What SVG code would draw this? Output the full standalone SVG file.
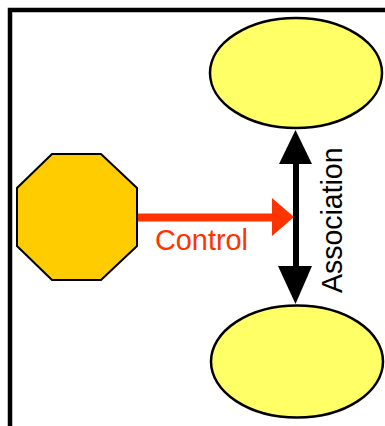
<svg xmlns="http://www.w3.org/2000/svg" width="385" height="426" viewBox="0 0 385 426">
<style>
.frame{fill:none;stroke:#000;stroke-width:4.5}
.ell{fill:#FFFF66;stroke:#000;stroke-width:2.5}
.oct{fill:#FFCC00;stroke:#000;stroke-width:2}
.lbl{font-family:"Liberation Sans",Arial,sans-serif;font-size:29.5px}
</style>
<rect width="385" height="426" fill="#fff"/>
<rect class="frame" x="10" y="10" width="400" height="440"/>
<g id="connectors">
  <g id="control">
    <line x1="137" y1="217.5" x2="274" y2="217.5" stroke="#FF3300" stroke-width="8"/>
    <polygon points="272,198 294,217 272,236" fill="#FF3300"/>
    <text class="lbl" x="155" y="250" fill="#FF3300" textLength="93" lengthAdjust="spacingAndGlyphs">Control</text>
  </g>
  <g id="association">
    <line x1="296" y1="160" x2="296" y2="270" stroke="#000" stroke-width="6"/>
    <polygon points="279,164 295.5,130 312,164" fill="#000"/>
    <polygon points="278,266 295.5,304 312,266" fill="#000"/>
    <text class="lbl" transform="translate(342,293) rotate(-90)" x="0" y="0" fill="#000" textLength="145.5" lengthAdjust="spacingAndGlyphs">Association</text>
  </g>
</g>
<g id="node-top">
  <ellipse class="ell" cx="296" cy="73" rx="86" ry="55"/>
</g>
<g id="node-bottom">
  <ellipse class="ell" cx="297" cy="361.5" rx="86" ry="56"/>
</g>
<g id="node-octagon">
  <polygon class="oct" points="52,154 101,154 137,188 137,246 101,280 52,280 17,246 17,188"/>
</g>
</svg>
